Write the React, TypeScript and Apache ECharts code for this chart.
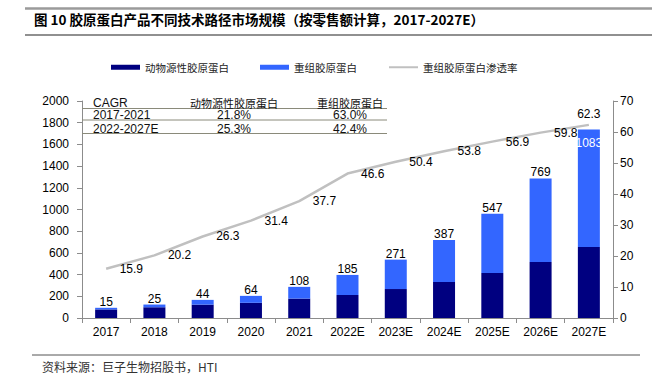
import React, { useEffect, useRef } from "react";
import * as echarts from "echarts";

const categories = ["2017", "2018", "2019", "2020", "2021", "2022E", "2023E", "2024E", "2025E", "2026E", "2027E"];
const animalDerived = [79, 99, 123, 140, 179, 212, 267, 332, 414, 517, 655];
const recombinant = [15, 25, 44, 64, 108, 185, 271, 387, 547, 769, 1083];
const penetration = [15.9, 20.2, 26.3, 31.4, 37.7, 46.6, 50.4, 53.8, 56.9, 59.8, 62.3];

const seriesNames = ["动物源性胶原蛋白", "重组胶原蛋白", "重组胶原蛋白渗透率"];
const title = "图 10 胶原蛋白产品不同技术路径市场规模（按零售额计算，2017-2027E）";
const source = "资料来源：巨子生物招股书，HTI";
const cagrHeader = ["CAGR", "动物源性胶原蛋白", "重组胶原蛋白"];
const cagrRows = [
  ["2017-2021", "21.8%", "63.0%"],
  ["2022-2027E", "25.3%", "42.4%"],
];

const LATIN = "'Liberation Sans', Arial, sans-serif";
const CJK = "'Noto Sans CJK SC', sans-serif";

export default function App() {
  const ref = useRef<HTMLDivElement>(null);
  useEffect(() => {
    const chart = echarts.init(ref.current!, null, { renderer: "svg" });
    const lastIdx = recombinant.length - 1;
    const tableGraphic: any[] = [];
    const lineYs = [108.5, 120, 133.5];
    lineYs.forEach((y) => {
      tableGraphic.push({
        type: "line",
        shape: { x1: 82, y1: y, x2: 387, y2: y },
        style: { stroke: "#8a8a7a", lineWidth: 1 },
        z: 5,
      });
    });
    const rowYs = [103, 115, 128.5];
    const colX = [93, 234, 350];
    const allRows = [cagrHeader, ...cagrRows];
    allRows.forEach((row, ri) => {
      row.forEach((cell, ci) => {
        const isCjk = ri === 0 && ci > 0;
        tableGraphic.push({
          type: "text",
          x: colX[ci],
          y: rowYs[ri],
          style: {
            text: cell,
            fill: "#111",
            font: `${isCjk ? 11 : 12}px ${isCjk ? CJK : LATIN}`,
            textAlign: ci === 0 ? "left" : "center",
            textVerticalAlign: "middle",
          },
          z: 6,
        });
      });
    });

    chart.setOption({
      animation: false,
      textStyle: { fontFamily: LATIN },
      grid: { left: 82, right: 39, top: 101, bottom: 66 },
      legend: {
        left: 111,
        top: 62,
        padding: 0,
        itemWidth: 29,
        itemHeight: 5,
        itemGap: 31,
        textStyle: { fontFamily: CJK, fontSize: 10.5, color: "#222" },
        data: [
          { name: seriesNames[0], icon: "rect" },
          { name: seriesNames[1], icon: "rect" },
          { name: seriesNames[2], itemStyle: { opacity: 0 } },
        ],
      },
      xAxis: {
        type: "category",
        data: categories,
        axisLine: { lineStyle: { color: "#8c8c8c" } },
        axisTick: { show: true, length: 5, interval: 0, lineStyle: { color: "#8c8c8c" } },
        axisLabel: { color: "#000", fontSize: 12, margin: 8, interval: 0 },
      },
      yAxis: [
        {
          type: "value",
          min: 0,
          max: 2000,
          interval: 200,
          axisLine: { show: true, lineStyle: { color: "#8c8c8c" } },
          axisTick: { show: true, length: 5, lineStyle: { color: "#8c8c8c" } },
          axisLabel: { color: "#000", fontSize: 12, margin: 13, formatter: (v: number) => String(v) },
          splitLine: { show: false },
        },
        {
          type: "value",
          min: 0,
          max: 70,
          interval: 10,
          position: "right",
          axisLine: { show: true, lineStyle: { color: "#8c8c8c" } },
          axisTick: { show: true, length: 5, lineStyle: { color: "#8c8c8c" } },
          axisLabel: { color: "#000", fontSize: 12, margin: 7 },
          splitLine: { show: false },
        },
      ],
      series: [
        {
          name: seriesNames[0],
          type: "bar",
          stack: "total",
          barWidth: 22,
          itemStyle: { color: "#000080" },
          data: animalDerived,
        },
        {
          name: seriesNames[1],
          type: "bar",
          stack: "total",
          barWidth: 22,
          itemStyle: { color: "#3366FF" },
          label: {
            show: true,
            position: "top",
            distance: 0,
            color: "#000",
            fontSize: 12,
            fontFamily: LATIN,
          },
          data: recombinant.map((v, i) =>
            i === lastIdx
              ? { value: v, label: { position: "insideTop", distance: 8, color: "#fff" } }
              : v
          ),
        },
        {
          name: seriesNames[2],
          type: "line",
          yAxisIndex: 1,
          symbol: "circle",
          symbolSize: 1,
          showSymbol: true,
          lineStyle: { color: "#C0C0C0", width: 2.5 },
          itemStyle: { color: "rgba(192,192,192,0)" },
          label: {
            show: true,
            position: "right",
            distance: 13,
            offset: [0, 2],
            color: "#000",
            fontSize: 12,
            fontFamily: LATIN,
            formatter: (p: any) => Number(p.value).toFixed(1),
          },
          labelLayout: { hideOverlap: false },
          data: penetration.map((v, i) =>
            i === lastIdx ? { value: v, label: { position: "top", distance: 4, offset: [0, 0] } } : v
          ),
          z: 3,
        },
      ],
      graphic: [
        {
          type: "line",
          shape: { x1: 25, y1: 8.5, x2: 652, y2: 8.5 },
          style: { stroke: "#9a9a9a", lineWidth: 2.5 },
        },
        {
          type: "text",
          x: 34,
          y: 19,
          style: {
            text: title,
            fill: "#000",
            font: `bold 13.5px ${CJK}`,
            textVerticalAlign: "middle",
          },
        },
        {
          type: "line",
          shape: { x1: 25, y1: 35, x2: 652, y2: 35 },
          style: { stroke: "#222", lineWidth: 1.2 },
        },
        ...tableGraphic,
        {
          type: "line",
          shape: { x1: 32, y1: 355, x2: 640, y2: 355 },
          style: { stroke: "#555", lineWidth: 1 },
        },
        {
          type: "text",
          x: 42,
          y: 366,
          style: {
            text: source,
            fill: "#333",
            font: `12px ${CJK}`,
            textVerticalAlign: "middle",
          },
        },
      ],
    });
    return () => chart.dispose();
  }, []);
  return (
    <div
      ref={ref}
      style={{ position: "fixed", left: 0, top: 0, width: 652, height: 384, background: "#fff" }}
    />
  );
}
